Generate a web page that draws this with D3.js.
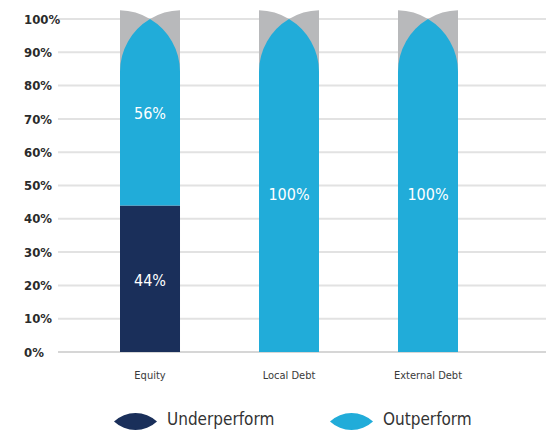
<!DOCTYPE html>
<html>
<head>
<meta charset="utf-8">
<script src="https://cdn.jsdelivr.net/npm/d3@7/dist/d3.min.js"></script>
<style>
  html, body { margin: 0; padding: 0; background: #fff; }
  svg { display: block; }
  text { font-family: "DejaVu Sans Condensed", "DejaVu Sans", sans-serif; }
</style>
</head>
<body>
<svg id="chart" width="546" height="430"></svg>
<script>
// ---- data ----
const categories = ["Equity", "Local Debt", "External Debt"];
const underperform = [44, 0, 0];
const outperform = [56, 100, 100];
const tickValues = [0, 10, 20, 30, 40, 50, 60, 70, 80, 90, 100];
const tickLabels = ["0%", "10%", "20%", "30%", "40%", "50%", "60%", "70%", "80%", "90%", "100%"];
const seriesNames = ["Underperform", "Outperform"];

// ---- styles ----
const colors = { Underperform: "#1a2f5a", Outperform: "#21acd9" };
const capGrey = "#b8b9bb";

const svg = d3.select("#chart");
const W = 546;

const y = d3.scaleLinear().domain([0, 100]).range([352, 19]);
const x = d3.scaleBand().domain(categories).range([120, 458]).paddingInner(0.5683).paddingOuter(0);
const bw = x.bandwidth();

// gridlines
const grid = svg.append("g");
grid.selectAll("line").data(tickValues).join("line")
  .attr("x1", 58).attr("x2", W)
  .attr("y1", d => y(d)).attr("y2", d => y(d))
  .attr("stroke", d => d === 0 ? "#d6d6d6" : "#e2e2e2")
  .attr("stroke-width", 2);

// tick labels
svg.append("g").selectAll("text").data(tickValues).join("text")
  .attr("x", 24).attr("y", d => y(d))
  .attr("dy", "0.36em")
  .attr("font-size", 13).attr("font-weight", "bold")
  .attr("fill", "#2b2b2b")
  .text((d, i) => tickLabels[i]);

// stacked data
const rows = categories.map((c, i) => ({ cat: c, Underperform: underperform[i], Outperform: outperform[i] }));
const stack = d3.stack().keys(seriesNames)(rows);

// arch geometry
const archH = bw * 0.88;
const half = bw / 2;
const r = (half * half + archH * archH) / (2 * half);

// grey caps behind tops
rows.forEach(row => {
  const total = row.Underperform + row.Outperform;
  const x0 = x(row.cat), x1 = x0 + bw, xc = x0 + half;
  const yTop = y(total);
  const yBase = yTop + archH;
  const dy = Math.sqrt(r * r - (r - bw) * (r - bw));
  const yEdge = yBase - dy;
  const p = d3.path();
  svg.append("path")
    .attr("d", `M${x0},${yBase + 2} L${x0},${yEdge} A${r},${r} 0 0 1 ${xc},${yTop} A${r},${r} 0 0 1 ${x1},${yEdge} L${x1},${yBase + 2} Z`)
    .attr("fill", capGrey);
});

// bars
stack.forEach(layer => {
  const key = layer.key;
  layer.forEach((seg, i) => {
    const v = seg[1] - seg[0];
    if (v <= 0) return;
    const cat = categories[i];
    const x0 = x(cat), x1 = x0 + bw, xc = x0 + half;
    const yb = y(seg[0]), yt = y(seg[1]);
    const total = underperform[i] + outperform[i];
    let d;
    if (seg[1] === total) {
      const ya = yt + archH;
      d = `M${x0},${yb} L${x0},${ya} A${r},${r} 0 0 1 ${xc},${yt} A${r},${r} 0 0 1 ${x1},${ya} L${x1},${yb} Z`;
    } else {
      d = `M${x0},${yb} L${x0},${yt} L${x1},${yt} L${x1},${yb} Z`;
    }
    svg.append("path").attr("d", d).attr("fill", colors[key]);
    svg.append("text")
      .attr("x", xc).attr("y", (yb + yt) / 2 + (v === 100 ? 9 : 1))
      .attr("dy", "0.36em")
      .attr("text-anchor", "middle")
      .attr("font-size", 16).attr("fill", "#ffffff")
      .text(v + "%");
  });
});

// category labels
svg.append("g").selectAll("text").data(categories).join("text")
  .attr("x", d => x(d) + half).attr("y", 379)
  .attr("text-anchor", "middle")
  .attr("font-size", 11).attr("fill", "#3a3a3a")
  .text(d => d);

// legend
const legendX = [114, 330];
const mw = 43, mh = 17;
seriesNames.forEach((name, i) => {
  const lx = legendX[i], cy = 421.5;
  const hc = mw / 2, s = mh / 2;
  const R = (hc * hc + s * s) / (2 * s);
  svg.append("path")
    .attr("d", `M${lx},${cy} A${R},${R} 0 0 1 ${lx + mw},${cy} A${R},${R} 0 0 1 ${lx},${cy} Z`)
    .attr("fill", colors[name]);
  svg.append("text")
    .attr("x", lx + mw + 10).attr("y", 425)
    .attr("font-size", 17).attr("fill", "#333")
    .text(name);
});
</script>
</body>
</html>
